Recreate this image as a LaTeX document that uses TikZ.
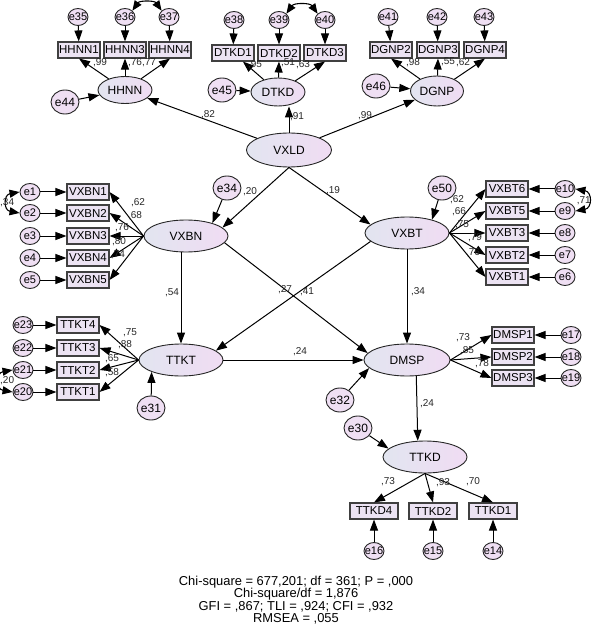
\documentclass[tikz,border=0pt]{standalone}
\usepackage{fontspec}
\setmainfont{Liberation Sans}
\usetikzlibrary{shapes.geometric,arrows.meta}
\definecolor{latl}{HTML}{E2E5F0}
\definecolor{latr}{HTML}{F0DCF3}
\definecolor{obsfill}{HTML}{ECE3F3}
\definecolor{errfill}{HTML}{EFDFF3}
\newcommand{\etxt}[1]{\makebox[0pt]{#1}}

\begin{document}
\begin{tikzpicture}[x=1pt,y=1pt,
  lat/.style={ellipse,draw=black!85,line width=0.9pt,left color=latl,right color=latr,
    inner sep=0pt,minimum width=84pt,minimum height=32pt,font=\fontsize{12}{12}\selectfont},
  obs/.style={rectangle,draw=black!75,line width=1.1pt,fill=obsfill,minimum width=42pt,
    minimum height=16pt,inner xsep=0pt,inner ysep=1pt,font=\fontsize{11.5}{12}\selectfont},
  err/.style={ellipse,draw=black!85,line width=0.9pt,fill=errfill,inner sep=0pt,
    minimum width=20pt,minimum height=17pt,font=\fontsize{11}{11}\selectfont},
  errb/.style={err,minimum width=28pt,minimum height=24pt,font=\fontsize{12}{12}\selectfont},
  pth/.style={-{Triangle[length=11pt,width=8pt]},line width=1pt},
  cov/.style={{Triangle[length=10pt,width=8pt]}-{Triangle[length=10pt,width=8pt]},line width=1.1pt},
  lbl/.style={inner sep=0pt,font=\fontsize{10}{10}\selectfont,text=black!85}]
  \useasboundingbox (0,0) rectangle (591,-636);

  % latent variables
  \node[lat,minimum width=85pt,minimum height=34pt] (VXLD) at (289,-150) {VXLD};
  \node[lat,minimum width=54pt,minimum height=27pt] (HHNN) at (125,-90) {HHNN};
  \node[lat,minimum width=54pt,minimum height=28pt] (DTKD) at (278,-92) {DTKD};
  \node[lat,minimum width=53pt,minimum height=30pt] (DGNP) at (437,-91) {DGNP};
  \node[lat] (VXBN) at (186,-236) {VXBN};
  \node[lat] (VXBT) at (407,-233) {VXBT};
  \node[lat] (TTKT) at (181,-360) {TTKT};
  \node[lat,minimum width=86pt] (DMSP) at (407,-360) {DMSP};
  \node[lat] (TTKD) at (425,-457) {TTKD};

  % indicators
  \node[obs] (HHNN1) at (79,-50) {HHNN1};
  \node[obs] (HHNN3) at (125,-50) {HHNN3};
  \node[obs] (HHNN4) at (170,-50) {HHNN4};
  \node[obs] (DTKD1) at (233,-53) {DTKD1};
  \node[obs] (DTKD2) at (279,-53) {DTKD2};
  \node[obs] (DTKD3) at (325,-53) {DTKD3};
  \node[obs] (DGNP2) at (391,-50) {DGNP2};
  \node[obs] (DGNP3) at (438,-50) {DGNP3};
  \node[obs] (DGNP4) at (485,-50) {DGNP4};
  \node[obs] (VXBN1) at (88,-192) {VXBN1};
  \node[obs] (VXBN2) at (88,-213) {VXBN2};
  \node[obs] (VXBN3) at (88,-236) {VXBN3};
  \node[obs] (VXBN4) at (88,-258) {VXBN4};
  \node[obs] (VXBN5) at (88,-280) {VXBN5};
  \node[obs] (VXBT6) at (507,-189) {VXBT6};
  \node[obs] (VXBT5) at (507,-211) {VXBT5};
  \node[obs] (VXBT3) at (507,-233) {VXBT3};
  \node[obs] (VXBT2) at (507,-255) {VXBT2};
  \node[obs] (VXBT1) at (507,-277) {VXBT1};
  \node[obs] (TTKT4) at (78,-325) {TTKT4};
  \node[obs] (TTKT3) at (78,-348) {TTKT3};
  \node[obs] (TTKT2) at (78,-370) {TTKT2};
  \node[obs] (TTKT1) at (78,-392) {TTKT1};
  \node[obs] (DMSP1) at (513,-335) {DMSP1};
  \node[obs] (DMSP2) at (513,-357) {DMSP2};
  \node[obs] (DMSP3) at (513,-378) {DMSP3};
  \node[obs,minimum width=48pt] (TTKD4) at (374,-511) {TTKD4};
  \node[obs,minimum width=48pt] (TTKD2) at (433,-511) {TTKD2};
  \node[obs,minimum width=48pt] (TTKD1) at (493,-511) {TTKD1};

  % error terms
  \node[err] (e35) at (78,-17) {\etxt{e35}};
  \node[err] (e36) at (125,-17) {\etxt{e36}};
  \node[err] (e37) at (169,-17) {\etxt{e37}};
  \node[err] (e38) at (234,-20) {\etxt{e38}};
  \node[err] (e39) at (279,-20) {\etxt{e39}};
  \node[err] (e40) at (325,-20) {\etxt{e40}};
  \node[err] (e41) at (388,-17) {\etxt{e41}};
  \node[err] (e42) at (437,-17) {\etxt{e42}};
  \node[err] (e43) at (484,-17) {\etxt{e43}};
  \node[errb] (e44) at (65,-102) {\etxt{e44}};
  \node[errb] (e45) at (222,-90) {\etxt{e45}};
  \node[errb] (e46) at (376,-86) {\etxt{e46}};
  \node[errb] (e34) at (227,-188) {\etxt{e34}};
  \node[errb] (e50) at (442,-188) {\etxt{e50}};
  \node[err] (e1) at (30,-192) {\etxt{e1}};
  \node[err] (e2) at (30,-213) {\etxt{e2}};
  \node[err] (e3) at (30,-236) {\etxt{e3}};
  \node[err] (e4) at (30,-258) {\etxt{e4}};
  \node[err] (e5) at (30,-280) {\etxt{e5}};
  \node[err] (e10) at (565,-189) {\etxt{e10}};
  \node[err] (e9) at (565,-211) {\etxt{e9}};
  \node[err] (e8) at (565,-233) {\etxt{e8}};
  \node[err] (e7) at (565,-255) {\etxt{e7}};
  \node[err] (e6) at (565,-277) {\etxt{e6}};
  \node[err] (e23) at (23,-325) {\etxt{e23}};
  \node[err] (e22) at (23,-348) {\etxt{e22}};
  \node[err] (e21) at (23,-370) {\etxt{e21}};
  \node[err] (e20) at (23,-392) {\etxt{e20}};
  \node[err] (e17) at (571,-335) {\etxt{e17}};
  \node[err] (e18) at (571,-357) {\etxt{e18}};
  \node[err] (e19) at (571,-378) {\etxt{e19}};
  \node[errb] (e31) at (151,-408) {\etxt{e31}};
  \node[errb] (e32) at (340,-400) {\etxt{e32}};
  \node[errb] (e30) at (358,-428) {\etxt{e30}};
  \node[err] (e16) at (374,-551) {\etxt{e16}};
  \node[err] (e15) at (433,-551) {\etxt{e15}};
  \node[err] (e14) at (493,-551) {\etxt{e14}};

  % error -> indicator
  \foreach \a/\b in {e35/HHNN1,e36/HHNN3,e37/HHNN4,e38/DTKD1,e39/DTKD2,e40/DTKD3,
      e41/DGNP2,e42/DGNP3,e43/DGNP4,e1/VXBN1,e2/VXBN2,e3/VXBN3,e4/VXBN4,e5/VXBN5,
      e10/VXBT6,e9/VXBT5,e8/VXBT3,e7/VXBT2,e6/VXBT1,e23/TTKT4,e22/TTKT3,e21/TTKT2,
      e20/TTKT1,e17/DMSP1,e18/DMSP2,e19/DMSP3,e16/TTKD4,e15/TTKD2,e14/TTKD1}
    \draw[pth] (\a) -- (\b);

  % loadings
  \foreach \b in {HHNN1,HHNN3,HHNN4} \draw[pth] (HHNN) -- (\b.south);
  \draw[pth] (DTKD) -- (DTKD1);
  \foreach \b in {DTKD2,DTKD3} \draw[pth] (DTKD) -- (\b.south);
  \foreach \b in {DGNP2,DGNP3,DGNP4} \draw[pth] (DGNP) -- (\b.south);
  \foreach \b in {VXBN1,VXBN2,VXBN3,VXBN4,VXBN5} \draw[pth] (VXBN.west) -- (\b.east);
  \foreach \b in {VXBT6,VXBT5,VXBT3,VXBT2,VXBT1} \draw[pth] (VXBT.east) -- (\b.west);
  \foreach \b in {TTKT4,TTKT3,TTKT2,TTKT1} \draw[pth] (TTKT.west) -- (\b.east);
  \foreach \b in {DMSP1,DMSP2,DMSP3} \draw[pth] (DMSP.east) -- (\b.west);
  \foreach \b in {TTKD4,TTKD2,TTKD1} \draw[pth] (TTKD.south) -- (\b.north);

  % disturbances
  \draw[pth] (e44) -- (HHNN);
  \draw[pth] (e45) -- (DTKD);
  \draw[pth] (e46) -- (DGNP);
  \draw[pth] (e34) -- (VXBN.26);
  \draw[pth] (e50) -- (VXBT.28);
  \draw[pth] (e31) -- (TTKT.-158);
  \draw[pth] (e32) -- (DMSP.-168);
  \draw[pth] (e30) -- (TTKD.167);

  % structural paths
  \draw[pth] (VXLD) -- (HHNN);
  \draw[pth] (VXLD.north) -- (DTKD.south -| VXLD.north);
  \draw[pth] (VXLD) -- (DGNP);
  \draw[pth] (VXLD.south) -- (VXBN.13);
  \draw[pth] (VXLD.south) -- (VXBT.167);
  \draw[pth] (TTKT.north |- VXBN.south) -- (TTKT.north);
  \draw[pth] (VXBN.-10) -- (DMSP.170);
  \draw[pth] (VXBT.-167) -- (TTKT.15);
  \draw[pth] (VXBT) -- (DMSP);
  \draw[pth] (TTKT) -- (DMSP);
  \draw[pth] (DMSP.-60) -- (TTKD.114);

  % covariances
  \draw[cov] (e36.north east) to[out=55,in=125,looseness=1.1] (e37.north west);
  \draw[cov] (e39.north east) to[out=55,in=125,looseness=1.1] (e40.north west);
  \draw[cov] (e1.west) to[out=190,in=170,looseness=2] (e2.west);
  \draw[cov] (e21.west) to[out=190,in=170,looseness=2] (e20.west);
  \draw[cov] (e10.east) to[out=-10,in=10,looseness=2] (e9.east);
  \node[lbl,anchor=west] (c12) at (0,-203) {,34};
  \node[lbl,anchor=west] (c2021) at (0,-381) {,20};
  \node[lbl,anchor=east] (c910) at (591,-201) {,71};

  % coefficients
  \foreach \x/\y/\t [count=\k] in {100/63/{,99},142/63/{,76,77},255/65/{,95},288/63/{,51},
      303/65/{,63},413/63/{,98},448/62/{,55},463/63/{,62},208/115/{,82},297/117/{,91},
      365/116/{,99},250/192/{,20},333/191/{,19},138/203/{,62},135/216/{,68},122/228/{,76},
      119/242/{,80},118/255/{,74},457/200/{,62},459/212/{,66},462/225/{,75},475/238/{,79},
      473/253/{,76},172/293/{,54},285/290/{,27},307/292/{,41},418/292/{,34},130/333/{,75},
      125/345/{,88},112/359/{,65},112/373/{,58},300/352/{,24},463/338/{,73},467/351/{,85},
      482/364/{,78},427/404/{,24},388/482/{,73},443/483/{,93},473/482/{,70}}
    \node[lbl] (coef\k) at (\x,-\y) {\t};

  % fit indices
  \node[align=center,font=\fontsize{12.9}{12.3}\selectfont] (fit) at (296,-600)
    {Chi-square = 677,201; df = 361; P = ,000\\Chi-square/df = 1,876\\
     GFI = ,867; TLI = ,924; CFI = ,932\\RMSEA = ,055};
\end{tikzpicture}
\end{document}
